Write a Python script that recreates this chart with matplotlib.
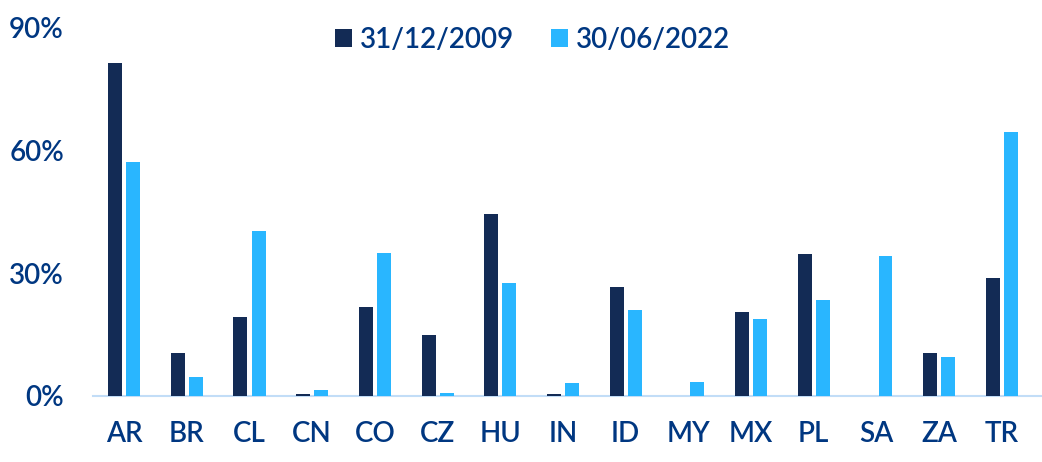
import matplotlib
matplotlib.use("Agg")
import matplotlib.pyplot as plt
import numpy as np
from matplotlib.patches import Patch

categories = ["AR", "BR", "CL", "CN", "CO", "CZ", "HU", "IN", "ID", "MY", "MX", "PL", "SA", "ZA", "TR"]
series_2009 = [81.4, 10.5, 19.4, 0.4, 21.8, 15.0, 44.4, 0.4, 26.5, 0.0, 20.6, 34.6, 0.0, 10.5, 28.9]
series_2022 = [57.1, 4.7, 40.2, 1.5, 35.0, 0.7, 27.5, 3.2, 21.1, 3.4, 18.9, 23.5, 34.3, 9.6, 64.5]
series_labels = ["31/12/2009", "30/06/2022"]
yticks = [0, 30, 60, 90]
ytick_labels = ["0%", "30%", "60%", "90%"]

dark = "#132B55"
light = "#29B6FF"
text_col = "#003781"
axis_col = "#C2DDF7"

plt.rcParams['font.family'] = ['Lato', 'DejaVu Sans']
plt.rcParams['font.weight'] = 'semibold'

fig = plt.figure(figsize=(10.42, 4.62), dpi=100)
ax = fig.add_axes([0.0893, 0.1429, 1.0 - 0.0893, 0.9405 - 0.1429])

x = np.arange(len(categories))
w = 0.223
off = 0.144
ax.bar(x - off, series_2009, width=w, color=dark, zorder=3)
ax.bar(x + off, series_2022, width=w, color=light, zorder=3)

ax.set_xlim(-0.495, len(categories) - 1 + 0.64)
ax.set_ylim(0, 90)
ax.set_yticks(yticks)
ax.set_yticklabels(ytick_labels)
ax.set_xticks(x)
ax.set_xticklabels(categories)

for s in ["top", "right", "left"]:
    ax.spines[s].set_visible(False)
ax.spines["bottom"].set_color(axis_col)
ax.spines["bottom"].set_linewidth(1.5)

ax.tick_params(axis="y", length=0, pad=21, labelsize=20, labelcolor=text_col)
ax.tick_params(axis="x", length=0, pad=18, labelsize=20, labelcolor=text_col)

handles = [Patch(facecolor=dark, edgecolor="none"), Patch(facecolor=light, edgecolor="none")]
fig.legend(handles, series_labels, loc="center", bbox_to_anchor=(0.511, 0.913),
           ncol=2, frameon=False, fontsize=20, labelcolor=text_col,
           handlelength=0.61, handleheight=0.61, handletextpad=0.3, columnspacing=1.3,
           borderpad=0, borderaxespad=0)

fig.savefig("out.png", dpi=100)
